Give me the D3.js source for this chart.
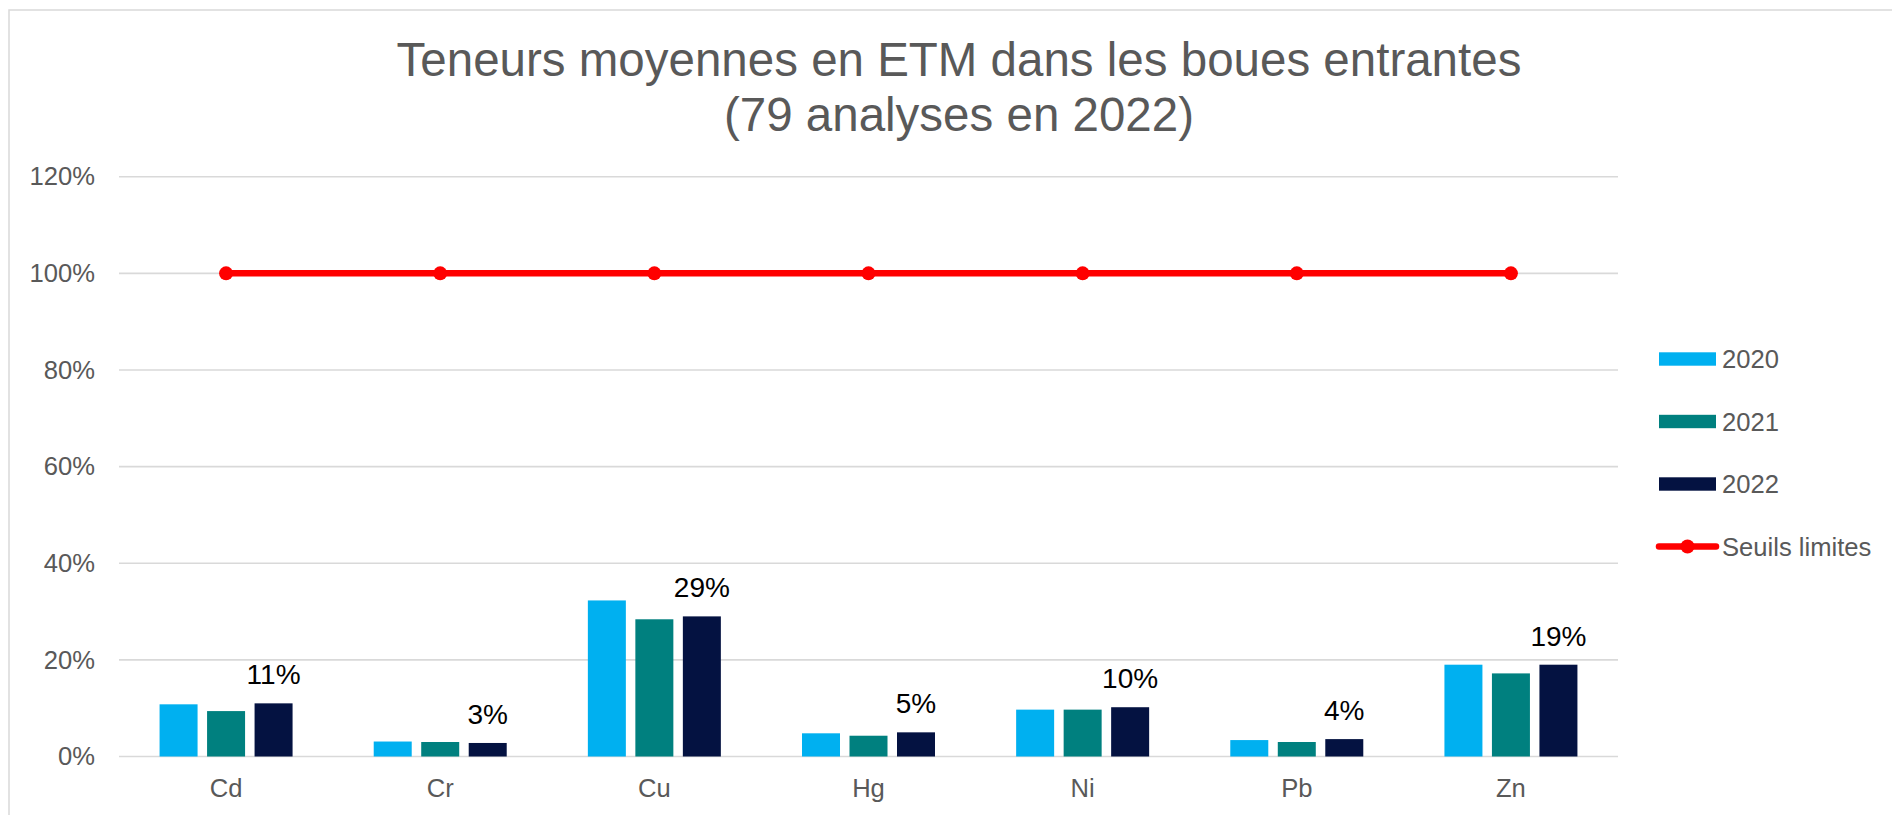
<!DOCTYPE html>
<html>
<head>
<meta charset="utf-8">
<script src="https://cdn.jsdelivr.net/npm/d3@7/dist/d3.min.js"></script>
<style>
  html, body { margin: 0; padding: 0; background: #ffffff; overflow: hidden; }
  svg { display: block; font-family: "Liberation Sans", Arial, sans-serif; }
</style>
</head>
<body>
<svg id="chart" width="1892" height="815"></svg>
<script>
const categories = ["Cd", "Cr", "Cu", "Hg", "Ni", "Pb", "Zn"];
const seriesNames = ["2020", "2021", "2022"];
const values2020 = [10.8, 3.1, 32.3, 4.8, 9.7, 3.4, 19.0];
const values2021 = [9.4, 3.0, 28.4, 4.3, 9.7, 3.0, 17.2];
const values2022 = [11.0, 2.8, 29.0, 5.0, 10.2, 3.6, 19.0];
const labels2022 = ["11%", "3%", "29%", "5%", "10%", "4%", "19%"];
const thresholdName = "Seuils limites";
const thresholds = [100, 100, 100, 100, 100, 100, 100];
const yTicks = [0, 20, 40, 60, 80, 100, 120];
const titleLines = ["Teneurs moyennes en ETM dans les boues entrantes", "(79 analyses en 2022)"];
const seriesColors = ["#00B0F0", "#00807F", "#041241"];

const svg = d3.select("#chart");
const plot = { left: 119, right: 1618, top: 176.7, bottom: 756.5 };

// chart frame
svg.append("rect")
  .attr("x", 9).attr("y", 10)
  .attr("width", 2000).attr("height", 1000)
  .attr("fill", "none").attr("stroke", "#d9d9d9").attr("stroke-width", 1.5);

// title
svg.append("text")
  .attr("x", 959).attr("text-anchor", "middle")
  .attr("fill", "#595959").attr("font-size", 47.5)
  .selectAll("tspan").data(titleLines).join("tspan")
  .attr("x", 959).attr("y", (d, i) => 76 + i * 55)
  .text(d => d);

const y = d3.scaleLinear().domain([0, 120]).range([plot.bottom, plot.top]);
const x0 = d3.scaleBand().domain(categories).range([plot.left, plot.right]).padding(0);
const groupW = 133;
const x1 = d3.scaleBand().domain(seriesNames).range([0, groupW]).paddingInner(0.2).paddingOuter(0);

// gridlines
svg.append("g")
  .selectAll("line").data(yTicks).join("line")
  .attr("x1", plot.left).attr("x2", plot.right)
  .attr("y1", d => y(d)).attr("y2", d => y(d))
  .attr("stroke", "#d9d9d9").attr("stroke-width", 1.6);

// y axis labels
const yAxis = d3.axisLeft(y).tickValues(yTicks).tickFormat(d => d + "%").tickSize(0).tickPadding(0);
const yg = svg.append("g").attr("transform", `translate(95,0)`).call(yAxis);
yg.select(".domain").remove();
yg.selectAll("text").attr("font-size", 25.6).attr("fill", "#595959")
  .attr("font-family", "Liberation Sans, Arial, sans-serif");

// x axis labels
const xAxis = d3.axisBottom(x0).tickSize(0).tickPadding(0);
const xg = svg.append("g").attr("transform", `translate(0,${plot.bottom})`).call(xAxis);
xg.select(".domain").remove();
xg.selectAll("text").attr("font-size", 25.6).attr("fill", "#595959")
  .attr("font-family", "Liberation Sans, Arial, sans-serif")
  .attr("dy", null).attr("y", 40);

// bars
const seriesData = [values2020, values2021, values2022];
seriesData.forEach((vals, si) => {
  svg.append("g")
    .selectAll("rect").data(vals).join("rect")
    .attr("x", (d, i) => x0(categories[i]) + (x0.bandwidth() - groupW) / 2 + x1(seriesNames[si]))
    .attr("width", x1.bandwidth())
    .attr("y", d => y(d))
    .attr("height", d => y(0) - y(d))
    .attr("fill", seriesColors[si]);
});

// data labels on 2022
svg.append("g")
  .selectAll("text").data(values2022).join("text")
  .attr("x", (d, i) => x0(categories[i]) + (x0.bandwidth() - groupW) / 2 + x1("2022") + x1.bandwidth() / 2)
  .attr("y", d => y(d) - 19)
  .attr("text-anchor", "middle")
  .attr("font-size", 28).attr("fill", "#000000")
  .text((d, i) => labels2022[i]);

// threshold line
const cx = c => x0(c) + x0.bandwidth() / 2;
const line = d3.line().x((d, i) => cx(categories[i])).y(d => y(d));
svg.append("path").datum(thresholds)
  .attr("d", line).attr("fill", "none")
  .attr("stroke", "#FF0000").attr("stroke-width", 6.5).attr("stroke-linecap", "round");
svg.append("g").selectAll("circle").data(thresholds).join("circle")
  .attr("cx", (d, i) => cx(categories[i])).attr("cy", d => y(d)).attr("r", 7)
  .attr("fill", "#FF0000");

// legend
const legend = svg.append("g");
const legendTop = 359;
const legendStep = 62.5;
seriesNames.forEach((name, i) => {
  const cy = legendTop + i * legendStep;
  legend.append("rect").attr("x", 1659).attr("y", cy - 6.7).attr("width", 57).attr("height", 13.4)
    .attr("fill", seriesColors[i]);
  legend.append("text").attr("x", 1722).attr("y", cy + 9.3)
    .attr("font-size", 25.6).attr("fill", "#595959").text(name);
});
{
  const cy = legendTop + 3 * legendStep;
  legend.append("line").attr("x1", 1659).attr("x2", 1716).attr("y1", cy).attr("y2", cy)
    .attr("stroke", "#FF0000").attr("stroke-width", 6.5).attr("stroke-linecap", "round");
  legend.append("circle").attr("cx", 1687.5).attr("cy", cy).attr("r", 7).attr("fill", "#FF0000");
  legend.append("text").attr("x", 1722).attr("y", cy + 9.3)
    .attr("font-size", 25.6).attr("fill", "#595959").text(thresholdName);
}
</script>
</body>
</html>
